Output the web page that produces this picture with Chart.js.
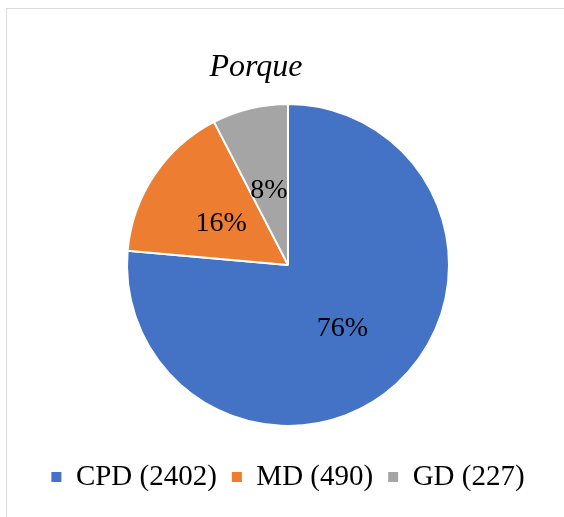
<!DOCTYPE html>
<html>
<head>
    <title>Porque</title>
    <script src="https://cdn.jsdelivr.net/npm/chart.js"></script>
    <style>
        body { margin: 0; background: #fff; }
        #frame { position: absolute; left: 6px; top: 8px; width: 620px; height: 620px; border: 1px solid #d9d9d9; }
        #wrap { position: absolute; left: 0; top: 0; width: 564px; height: 517px; }
    </style>
</head>
<body>
    <div id="frame"></div>
    <div id="wrap"><canvas id="pieChart"></canvas></div>

    <script>
        const chartTitle = "Porque";
        const categories = ["CPD (2402)", "MD (490)", "GD (227)"];
        const shares = [76.4, 16.0, 7.6];
        const colors = ["#4472C4", "#ED7D31", "#A5A5A5"];
        const serif = "'Liberation Serif', 'Times New Roman', serif";

        // title drawn by hand so it can sit left of the pie centre like the original
        const titlePlugin = {
            id: 'titleText',
            afterDraw(chart) {
                const ctx = chart.ctx;
                ctx.save();
                ctx.font = "italic 32px " + serif;
                ctx.fillStyle = "#000";
                ctx.textAlign = "center";
                ctx.textBaseline = "alphabetic";
                ctx.fillText(chartTitle, 256, 76);
                ctx.restore();
            }
        };

        const pctLabels = {
            id: 'pctLabels',
            afterDatasetsDraw(chart) {
                const ctx = chart.ctx;
                const meta = chart.getDatasetMeta(0);
                const total = shares.reduce((a, b) => a + b, 0);
                ctx.save();
                ctx.font = "28px " + serif;
                ctx.fillStyle = "#000";
                ctx.textAlign = "center";
                ctx.textBaseline = "middle";
                meta.data.forEach((arc, i) => {
                    const p = arc.tooltipPosition();
                    ctx.fillText(Math.round(shares[i] / total * 100) + "%", p.x, p.y + 4);
                });
                ctx.restore();
            }
        };

        const ctx = document.getElementById('pieChart').getContext('2d');
        new Chart(ctx, {
            type: 'pie',
            data: {
                labels: categories,
                datasets: [{
                    data: shares,
                    backgroundColor: colors,
                    borderColor: '#fff',
                    borderWidth: 2,
                    radius: 161
                }]
            },
            options: {
                responsive: true,
                maintainAspectRatio: false,
                animation: false,
                layout: { padding: { left: 12, right: 0, top: 82.4, bottom: 15.6 } },
                plugins: {
                    legend: {
                        position: 'bottom',
                        labels: {
                            boxWidth: 10,
                            boxHeight: 10,
                            padding: 15,
                            color: '#000',
                            font: { family: serif, size: 29 },
                            // no white outline round the legend squares
                            generateLabels(chart) {
                                const items = Chart.overrides.pie.plugins.legend.labels.generateLabels(chart);
                                items.forEach(it => { it.lineWidth = 0; it.strokeStyle = it.fillStyle; });
                                return items;
                            }
                        }
                    },
                    tooltip: { enabled: false }
                }
            },
            plugins: [titlePlugin, pctLabels]
        });
    </script>
</body>
</html>
